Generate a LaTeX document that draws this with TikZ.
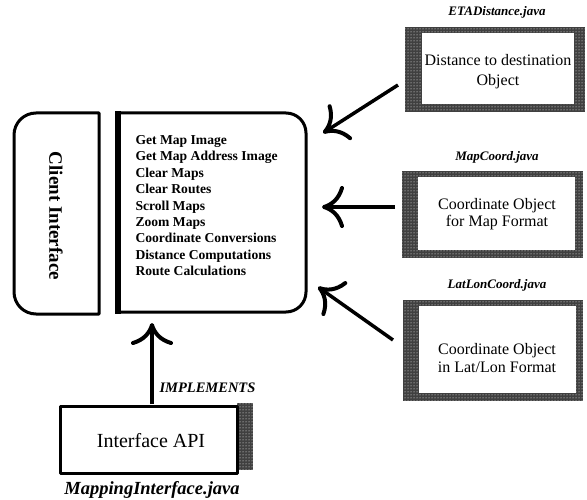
\documentclass[tikz,border=0pt]{standalone}
\usepackage{fontspec}
\setmainfont{Liberation Serif}
\usetikzlibrary{arrows.meta,patterns}
\tikzset{
  frame/.style={line width=3pt, line join=round},
  bigarrow/.style={line width=3.5pt, -{Computer Modern Rightarrow[length=22pt,width=42pt,line width=4pt]}},
  filename/.style={font=\bfseries\itshape\fontsize{13}{14}\selectfont},
  boxtext/.style={align=center, font=\fontsize{16}{17.5}\selectfont},
}
% dithered frame round a white panel
\newcommand{\ditherframe}[8]{%
  \fill[black!75] (#1,#2) rectangle (#3,#4);
  \fill[pattern=dots, pattern color=white] (#1,#2) rectangle (#3,#4);
  \fill[white] (#5,#6) rectangle (#7,#8);
}
\begin{document}
\begin{tikzpicture}[x=1pt,y=-1pt]
\useasboundingbox (0,0) rectangle (587,500);

% Client interface panel (rounded on the left)
\draw[frame] (99,113) -- (99,314) [rounded corners=22pt] -- (14,314) -- (14,113) [sharp corners] -- cycle;
\node[rotate=-90, font=\bfseries\fontsize{19}{22}\selectfont] (client) at (56,216) {Client Interface};

% Method panel (rounded on the right)
\draw[frame] (118,312) -- (118,113) [rounded corners=20pt] -- (306,113) -- (306,312) [sharp corners] -- cycle;
\draw[line width=6pt] (118,111) -- (118,314);
\node[anchor=north west, align=left, font=\bfseries\fontsize{13.6}{16.4}\selectfont] (methods) at (132,132)
  {Get Map Image\\Get Map Address Image\\Clear Maps\\Clear Routes\\Scroll Maps\\Zoom Maps\\Coordinate Conversions\\Distance Computations\\Route Calculations};

% Right-hand object boxes
\ditherframe{405}{27}{585}{112}{422}{33}{574}{104}
\node[filename] (etafile) at (497,12) {ETADistance.java};
\node[boxtext, font=\fontsize{16}{20}\selectfont] (eta) at (498,72) {Distance to destination\\Object};

\ditherframe{402}{171}{583}{258}{418}{177}{575}{250}
\node[filename] (mapfile) at (497,157) {MapCoord.java};
\node[boxtext] (mapcoord) at (497,214) {Coordinate Object\\for Map Format};

\ditherframe{403}{300}{583}{401}{419}{306}{576}{393}
\node[filename] (latfile) at (497,285) {LatLonCoord.java};
\node[boxtext] (latlon) at (497,358) {Coordinate Object\\in Lat/Lon Format};

% Interface API box
\fill[black!75] (237,403) rectangle (253,470);
\fill[pattern=dots, pattern color=white] (237,403) rectangle (253,470);
\draw[frame] (60,406) rectangle (237,473);
\node[font=\fontsize{20}{22}\selectfont] (api) at (151,441) {Interface API};
\node[font=\bfseries\itshape\fontsize{18.5}{20}\selectfont] (apifile) at (152,490) {MappingInterface.java};

% Arrows
\coordinate (a1s) at (398,85);  \coordinate (a1e) at (323,133);
\coordinate (a2s) at (395,207); \coordinate (a2e) at (322,207);
\coordinate (a3s) at (393,340); \coordinate (a3e) at (318,287);
\coordinate (ups) at (152,404); \coordinate (upe) at (152,323);
\draw[bigarrow] (a1s) -- (a1e);
\draw[bigarrow] (a2s) -- (a2e);
\draw[bigarrow] (a3s) -- (a3e);
\draw[bigarrow] (ups) -- (upe);
\node[anchor=west, font=\bfseries\itshape\fontsize{14.5}{16}\selectfont] (impl) at (156,388) {IMPLEMENTS};
\end{tikzpicture}
\end{document}
